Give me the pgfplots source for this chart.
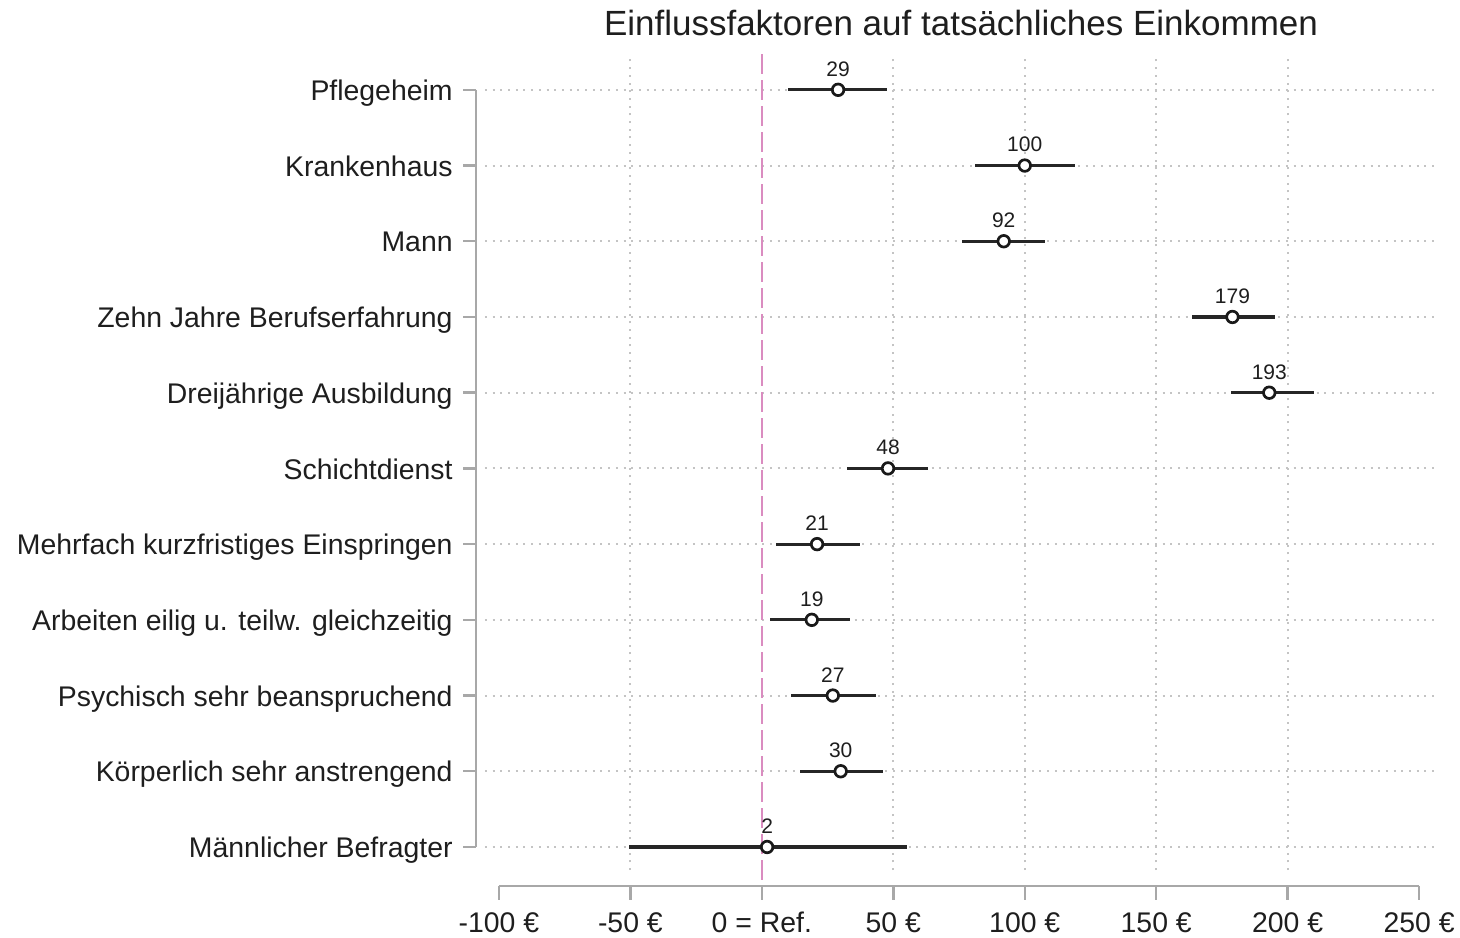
\documentclass[border=0pt]{standalone}
\usepackage{pgfplots}
\pgfplotsset{compat=1.18}
\usepackage{pgfplotstable}
\usepackage{fontspec}
\setmainfont{Liberation Sans}
\definecolor{axgray}{HTML}{A8A8A8}
\definecolor{gridgray}{HTML}{C4C4C4}
\definecolor{refpink}{HTML}{DA8CC0}
\definecolor{txt}{HTML}{1E1E1E}
\pgfplotstableread{
y est ep em lab
11 29 18.7 19.1 29
10 100 19.0 19.1 100
9 92 15.8 16.0 92
8 179 16.0 15.3 179
7 193 17.0 14.7 193
6 48 15.1 15.7 48
5 21 16.2 15.7 21
4 19 14.7 16.0 19
3 27 16.3 16.1 27
2 30 16.0 15.6 30
1 2 53.1 52.4 2
}\data
\begin{document}
\begin{tikzpicture}
\begin{axis}[name=ax, scale only axis, width=476pt, height=407.5pt,
 xmin=-105.3, xmax=256.8, ymin=0.696, ymax=11.46,
 axis line style={draw=none},
 xtick={-100,-50,0,50,100,150,200,250},
 xticklabels={-100 €,-50 €,0 = Ref.,50 €,100 €,150 €,200 €,250 €},
 minor xtick={-50,50,100,150,200},
 xminorgrids,
 minor grid style={gridgray, line width=1pt, dash pattern=on 1pt off 2.85pt},
 ytick={1,...,11},
 yticklabels={Männlicher Befragter, Körperlich sehr anstrengend, Psychisch sehr beanspruchend, Arbeiten eilig u. teilw. gleichzeitig, Mehrfach kurzfristiges Einspringen, Schichtdienst, Dreijährige Ausbildung, Zehn Jahre Berufserfahrung, Mann, Krankenhaus, Pflegeheim},
 ymajorgrids,
 major grid style={gridgray, line width=1pt, dash pattern=on 1pt off 2.85pt},
 major tick length=0pt, minor tick length=0pt,
 tick label style={font=\fontsize{14.2}{16}\selectfont, text=txt, inner sep=0pt},
 xticklabel style={anchor=base, yshift=-31pt},
 yticklabel style={anchor=base east, xshift=-16pt, yshift=-5.3pt},
 title={Einflussfaktoren auf tatsächliches Einkommen},
 title style={at={(0.5,1)}, anchor=base, yshift=3.5pt, inner sep=0pt, font=\fontsize{17.5}{20}\selectfont, text=txt},
 clip=false,
]
\addplot[draw=refpink, line width=1pt, dash pattern=on 10pt off 3pt] coordinates {(0,0.565) (0,11.49)};
\addplot[only marks, mark=*, mark size=2.9pt,
  mark options={line width=1.35pt, draw=black!90, fill=white},
  nodes near coords, point meta=explicit symbolic,
  nodes near coords style={font=\fontsize{10.5}{12}\selectfont, text=txt, anchor=south, inner sep=0pt, yshift=6pt},
  error bars/.cd, x dir=both, x explicit, error mark=none,
  error bar style={line width=1.6pt, color=black!85}]
  table[x=est, y=y, x error plus=ep, x error minus=em, meta=lab]{\data};
\draw[axgray, line width=1.2pt] (axis cs:-108.8,11) -- (axis cs:-108.8,1);
\pgfplotsinvokeforeach{1,...,11}{\draw[axgray, line width=1.2pt] (axis cs:-108.8,#1) -- ++(-6.5pt,0pt);}
\draw[axgray, line width=1.2pt] (axis cs:-100,0.4855) -- (axis cs:250,0.4855);
\pgfplotsinvokeforeach{-100,-50,0,50,100,150,200,250}{\draw[axgray, line width=1.2pt] (axis cs:#1,0.4855) -- ++(0pt,-7pt);}
\end{axis}
\path ([xshift=-242.5pt,yshift=-33.5pt]ax.south west) rectangle ([xshift=11.5pt,yshift=27.5pt]ax.north east);
\end{tikzpicture}
\end{document}
